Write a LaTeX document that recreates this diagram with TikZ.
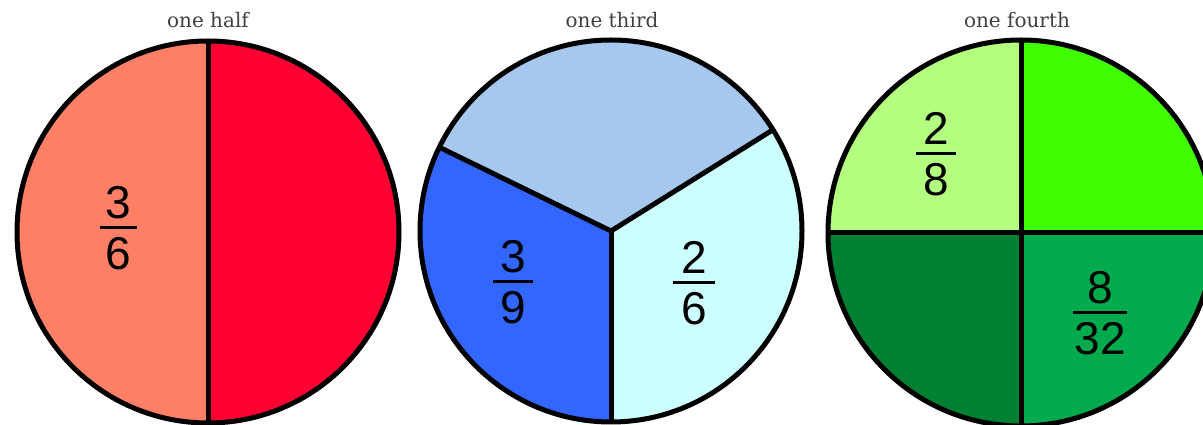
\documentclass[tikz,border=0pt]{standalone}
\usepackage{fontspec}
\newfontfamily\titlefont{DejaVu Serif}
\newfontfamily\digitfont{Liberation Sans}
\usepackage{xcolor}
\usepackage{tikz}
\definecolor{halfA}{RGB}{255,128,102}
\definecolor{halfB}{RGB}{255,0,51}
\definecolor{thirdA}{RGB}{166,200,238}
\definecolor{thirdB}{RGB}{51,102,255}
\definecolor{thirdC}{RGB}{204,255,255}
\definecolor{fourthA}{RGB}{179,255,128}
\definecolor{fourthB}{RGB}{64,255,0}
\definecolor{fourthC}{RGB}{0,128,51}
\definecolor{fourthD}{RGB}{0,170,77}
\newcommand{\piefrac}[3][40pt]{\vbox{\offinterlineskip\halign{\hfil##\hfil\cr
	#2\cr\noalign{\kern8pt}
	\vrule width #1 height 3pt depth 0pt\cr\noalign{\kern8pt}
	#3\cr}}}
\tikzset{
	rim/.style={draw=black, line width=5pt},
	spoke/.style={draw=black, line width=5pt},
	ttl/.style={font=\titlefont\fontsize{20}{24}\selectfont, text=black!75,
		anchor=base, inner sep=0pt},
	frc/.style={font=\digitfont\fontsize{46}{46}\selectfont, inner sep=0pt},
}
\begin{document}
\begin{tikzpicture}[x=1pt, y=1pt]
	\useasboundingbox (0,0) rectangle (1203,425);
	\clip (0,0) rectangle (1203,425);
	% one half
	\coordinate (ch) at (208,193);
	\fill[halfA] (ch) -- ++(90:191pt) arc[start angle=90, end angle=270, radius=191pt] -- cycle;
	\fill[halfB] (ch) -- ++(-90:191pt) arc[start angle=-90, end angle=90, radius=191pt] -- cycle;
	\draw[spoke] (ch) ++(90:191pt) -- ++(0,-382pt);
	\draw[rim] (ch) circle[radius=191pt];
	\node[ttl] (thalf) at (208,397) {one half};
	\node[frc] (fhalf) at (118,197) {\piefrac[37pt]{3}{6}};
	% one third
	\coordinate (ct) at (611,194);
	\fill[thirdA] (ct) -- ++(32:191pt) arc[start angle=32, end angle=154, radius=191pt] -- cycle;
	\fill[thirdB] (ct) -- ++(154:191pt) arc[start angle=154, end angle=270, radius=191pt] -- cycle;
	\fill[thirdC] (ct) -- ++(270:191pt) arc[start angle=270, end angle=392, radius=191pt] -- cycle;
	\draw[spoke] (ct) -- ++(32:191pt);
	\draw[spoke] (ct) -- ++(154:191pt);
	\draw[spoke] (ct) -- ++(270:191pt);
	\draw[rim] (ct) circle[radius=191pt];
	\node[ttl] (tthird) at (612,397) {one third};
	\node[frc] (fthirdl) at (513,143) {\piefrac{3}{9}};
	\node[frc] (fthirdr) at (694,142) {\piefrac[42pt]{2}{6}};
	% one fourth
	\coordinate (cf) at (1021,192);
	\fill[fourthA] (cf) -- ++(90:193pt) arc[start angle=90, end angle=180, radius=193pt] -- cycle;
	\fill[fourthB] (cf) -- ++(0:193pt) arc[start angle=0, end angle=90, radius=193pt] -- cycle;
	\fill[fourthC] (cf) -- ++(180:193pt) arc[start angle=180, end angle=270, radius=193pt] -- cycle;
	\fill[fourthD] (cf) -- ++(270:193pt) arc[start angle=270, end angle=360, radius=193pt] -- cycle;
	\draw[spoke] (cf) ++(90:193pt) -- ++(0,-386pt);
	\draw[spoke] (cf) ++(180:193pt) -- ++(386pt,0);
	\draw[rim] (cf) circle[radius=193pt];
	\node[ttl] (tfourth) at (1017,397) {one fourth};
	\node[frc] (ffourthl) at (936,271) {\piefrac{2}{8}};
	\node[frc] (ffourthr) at (1100,112) {\piefrac[54pt]{8}{32}};
\end{tikzpicture}
\end{document}
